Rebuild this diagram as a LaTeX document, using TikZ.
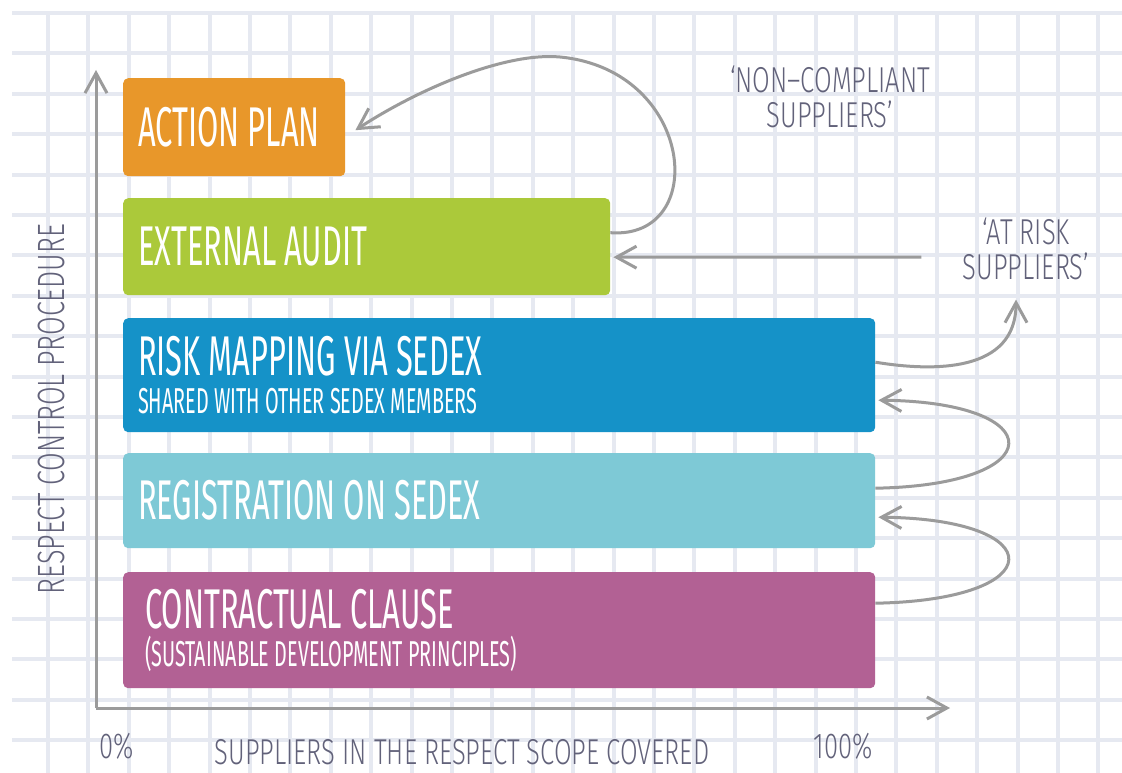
\documentclass[tikz,border=0pt]{standalone}
\usepackage{fontspec}
\usetikzlibrary{arrows.meta}

\newfontfamily\boxfont[FakeStretch = 0.55]{Fira Sans}
\newfontfamily\notefont[FakeStretch = 0.71]{Fira Sans Light}

\definecolor{gridcolor}{HTML}{E6E9F1}
\definecolor{arrowcolor}{HTML}{9B9B9B}
\definecolor{notecolor}{HTML}{62627A}
\definecolor{plancolor}{HTML}{E8972A}
\definecolor{auditcolor}{HTML}{ABC93A}
\definecolor{mappingcolor}{HTML}{1592C8}
\definecolor{registrationcolor}{HTML}{7EC9D6}
\definecolor{clausecolor}{HTML}{B26194}

\begin{document}
\begin{tikzpicture}[x = 1pt, y = -1pt, > = {Straight Barb[length = 20pt, width = 22pt]},
	box/.style = {rectangle, rounded corners = 5pt, anchor = north west, inner xsep = 15pt, inner ysep = 0pt,
		text = white, align = flush left, font = \boxfont\fontsize{56}{56}\selectfont},
	note/.style = {text = notecolor, align = center, font = \notefont\fontsize{36}{35}\selectfont},
	flow/.style = {->, draw = arrowcolor, line width = 3pt},
	gridline/.style = {draw = gridcolor, line width = 4pt}]

	\useasboundingbox (0, 0) rectangle (1122, 773);
	\fill [white] (0, 0) rectangle (1122, 773);

	% squared paper
	\foreach \k in {0, ..., 18}
		\draw [gridline] (12, {13 + 40.4 * \k}) -- (1122, {13 + 40.4 * \k});
	\foreach \k in {0, ..., 26}
		\draw [gridline] ({48 + 40.4 * \k}, 13) -- ({48 + 40.4 * \k}, 773);

	% axes
	\coordinate (origin) at (96, 708);
	\draw [flow] (origin) -- (96, 70);
	\draw [flow] (origin) -- (950, 708);

	\node [note] (zero) at (117, 746) {0\%};
	\node [note] (hundred) at (843, 746) {100\%};
	\node [note] (xlabel) at (462, 752) {SUPPLIERS IN THE RESPECT SCOPE COVERED};
	\node [note, rotate = 90, font = \notefont\fontsize{38}{38}\selectfont] (ylabel) at (51, 409) {RESPECT CONTROL PROCEDURE};

	% steps
	\node [box, fill = plancolor, minimum width = 222pt, minimum height = 98pt, text width = 192pt] (plan) at (123, 78) {ACTION PLAN};
	\node [box, fill = auditcolor, minimum width = 487pt, minimum height = 97pt, text width = 457pt] (audit) at (123, 198) {EXTERNAL AUDIT};
	\node [box, fill = mappingcolor, minimum width = 752pt, minimum height = 114pt, text width = 722pt] (mapping) at (123, 318)
		{RISK MAPPING VIA SEDEX\\[-18pt]{\fontsize{36}{36}\selectfont SHARED WITH OTHER SEDEX MEMBERS}};
	\node [box, fill = registrationcolor, minimum width = 752pt, minimum height = 95pt, text width = 722pt] (registration) at (123, 453) {REGISTRATION ON SEDEX};
	\node [box, fill = clausecolor, minimum width = 752pt, minimum height = 116pt, inner xsep = 22pt, text width = 708pt] (clause) at (123, 572)
		{CONTRACTUAL CLAUSE\\[-18pt]{\fontsize{36}{36}\selectfont (SUSTAINABLE DEVELOPMENT PRINCIPLES)}};

	\node [note] (noncompliant) at (830, 97) {‘NON–COMPLIANT\\SUPPLIERS’};
	\node [note] (atrisk) at (1026, 249) {‘AT RISK\\SUPPLIERS’};

	% feedback loops
	\draw [flow] ([yshift = 14pt] audit.east) .. controls (710, 240) and (695, 70) .. (560, 57)
		.. controls (506, 52) and (420, 88) .. ([xshift = 10pt, yshift = -3pt] plan.east);
	\draw [flow] ([xshift = -38pt, yshift = -8pt] atrisk.west) -- ([xshift = 3pt, yshift = -10.5pt] audit.east);
	\draw [flow] ([yshift = 13pt] mapping.east) .. controls (935, 372) and (1016, 372) .. ([xshift = -10pt, yshift = -16pt] atrisk.south);
	\draw [flow] ([yshift = 12.5pt] registration.east) .. controls (1052, 485) and (1052, 402) .. ([xshift = 3pt, yshift = -25pt] mapping.east);
	\draw [flow] ([yshift = 27pt] clause.east) .. controls (1052, 600) and (1052, 519) .. ([xshift = 3pt, yshift = -16.5pt] registration.east);

\end{tikzpicture}
\end{document}
